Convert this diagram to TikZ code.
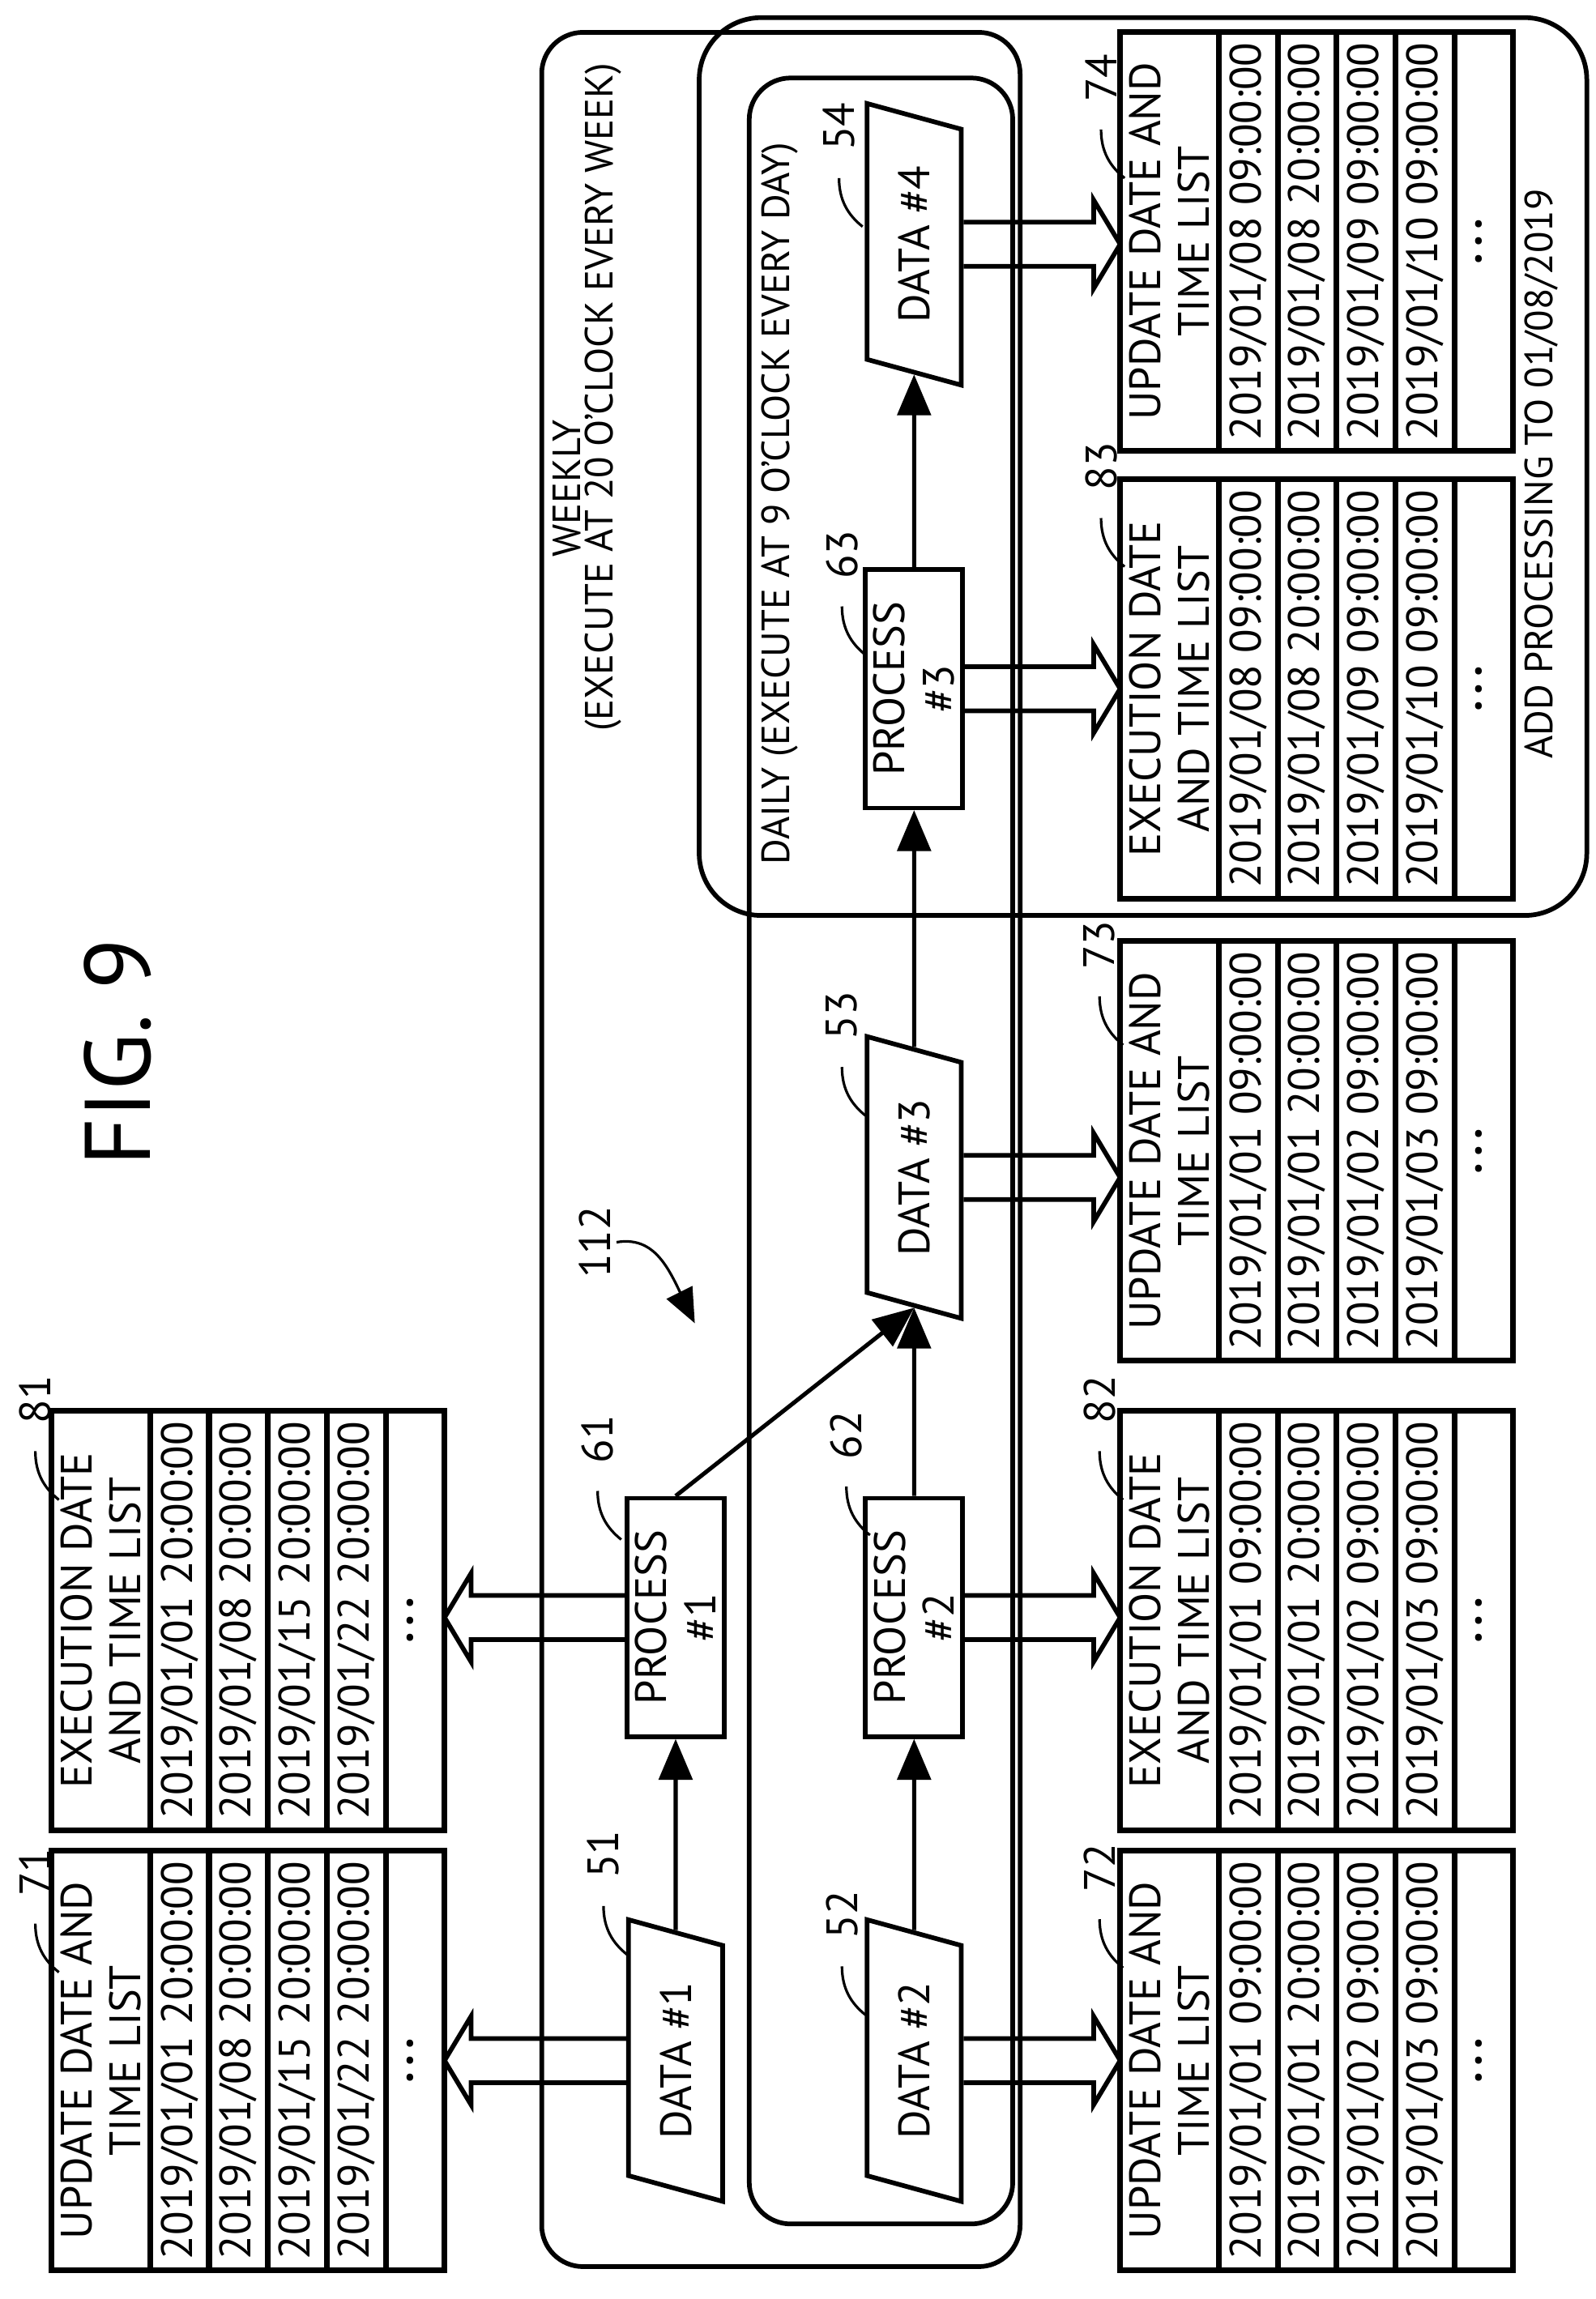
\documentclass[tikz,border=0pt]{standalone}
\usepackage{fontspec}
\setmainfont{PT Sans}
\usetikzlibrary{arrows}
\usetikzlibrary{shapes}
\usetikzlibrary{positioning}
\usetikzlibrary{calc}

\tikzset{
  frame/.style={line width=0.9pt},
  datanode/.style={draw, line width=0.9pt, trapezium, trapezium left angle=61, trapezium right angle=119,
     trapezium stretches=true, minimum width=1.92cm, minimum height=0.64cm, inner sep=0pt},
  procnode/.style={draw, line width=0.9pt, rectangle, minimum width=1.62cm, minimum height=0.66cm,
     inner sep=0pt, align=center, font=\fontsize{8.5}{9.5}\selectfont},
  thead/.style={draw, line width=1.1pt, minimum width=2.85cm, minimum height=0.67cm, inner sep=0pt,
     outer sep=0pt, align=center, font=\fontsize{8.5}{9.5}\selectfont},
  tcell/.style={draw, line width=1.1pt, minimum width=2.85cm, minimum height=0.40cm, inner sep=0pt,
     outer sep=0pt},
  num/.style={font=\fontsize{8.5}{9.5}\selectfont, inner sep=1pt},
  note/.style={font=\fontsize{7.6}{9}\selectfont},
  lead/.style={line width=0.5pt},
  flow/.style={->, >=triangle 45, line width=0.8pt},
  wide/.style={line width=0.9pt, line join=miter}
}

\newcommand{\datetable}[8]{%
  \node[thead, anchor=north] (#1) at (#2) {#3};
  \node[tcell, below=0pt of #1] (#1a) {#4};
  \node[tcell, below=0pt of #1a] (#1b) {#5};
  \node[tcell, below=0pt of #1b] (#1c) {#6};
  \node[tcell, below=0pt of #1c] (#1d) {#7};
  \node[tcell, below=0pt of #1d] (#1e) {#8};
}

\newcommand{\widearrow}[2]{%
  \coordinate (wa) at (#1);
  \coordinate (wb) at (#2);
  \coordinate (wh) at ($(wb)!0.18cm!(wa)$);
  \draw[wide] ($(wa)!0.15cm!90:(wb)$) -- ($(wh)!0.15cm!90:(wb)$) -- ($(wh)!0.3cm!90:(wb)$)
    -- (wb) -- ($(wh)!0.3cm!-90:(wb)$) -- ($(wh)!0.15cm!-90:(wb)$) -- ($(wa)!0.15cm!-90:(wb)$);
}

\newcommand{\reflabel}[3]{%
  \node[num] (#1) at (#2) {#3};
  \draw[lead] (#1) ++(-0.35,0) .. controls +(-0.15,0) and +(0.08,0.1) .. ++(-0.33,-0.16);
}

\newcommand{\moredots}{\textbf{·\hspace{1.2pt}·\hspace{1.2pt}·}}

\begin{document}
\begin{tikzpicture}
\useasboundingbox (0,0) rectangle (10.84,15.62);
\begin{scope}[shift={(10.84,0)}, rotate=90, transform shape, font=\fontsize{8.5}{9.5}\selectfont]

% frames
\draw[frame, rounded corners=8pt] (0.22,3.91) rectangle (15.40,7.16);
\draw[frame, rounded corners=8pt] (0.51,3.96) rectangle (15.09,5.75);
\draw[frame, rounded corners=12pt] (9.40,0.06) rectangle (15.50,6.09);

\node[font=\fontsize{18}{20}\selectfont] (fig) at (8.47,10.04) {FIG. 9};
\node[note] (wk) at (12.30,6.99) {WEEKLY};
\node[note] (wkx) at (12.92,6.74) {(EXECUTE AT 20 O'CLOCK EVERY WEEK)};
\node[note, anchor=west] (dy) at (9.62,5.54) {DAILY (EXECUTE AT 9 O'CLOCK EVERY DAY)};
\node[note] (add) at (12.40,0.37) {ADD PROCESSING TO 01/08/2019};

% data and processes
\node[datanode] (d1) at (1.62,6.25) {DATA \#1};
\node[datanode] (d2) at (1.62,4.63) {DATA \#2};
\node[datanode] (d3) at (7.62,4.63) {DATA \#3};
\node[datanode] (d4) at (13.96,4.63) {DATA \#4};
\node[procnode] (p1) at (4.63,6.25) {PROCESS\\\#1};
\node[procnode] (p2) at (4.63,4.63) {PROCESS\\\#2};
\node[procnode] (p3) at (10.94,4.63) {PROCESS\\\#3};

\draw[flow] (d1) -- (p1);
\draw[flow] (d2) -- (p2);
\draw[flow] (p2) -- (d3.west);
\draw[flow] (p1.east) -- (d3.west);
\draw[flow] (d3) -- (p3);
\draw[flow] (p3) -- (d4);

% tables
\datetable{t71}{1.62,10.49}{UPDATE DATE AND\\TIME LIST}{2019/01/01 20:00:00}{2019/01/08 20:00:00}{2019/01/15 20:00:00}{2019/01/22 20:00:00}{\moredots}
\datetable{t81}{4.61,10.49}{EXECUTION DATE\\AND TIME LIST}{2019/01/01 20:00:00}{2019/01/08 20:00:00}{2019/01/15 20:00:00}{2019/01/22 20:00:00}{\moredots}
\datetable{t72}{1.62,3.23}{UPDATE DATE AND\\TIME LIST}{2019/01/01 09:00:00}{2019/01/01 20:00:00}{2019/01/02 09:00:00}{2019/01/03 09:00:00}{\moredots}
\datetable{t82}{4.61,3.23}{EXECUTION DATE\\AND TIME LIST}{2019/01/01 09:00:00}{2019/01/01 20:00:00}{2019/01/02 09:00:00}{2019/01/03 09:00:00}{\moredots}
\datetable{t73}{7.80,3.23}{UPDATE DATE AND\\TIME LIST}{2019/01/01 09:00:00}{2019/01/01 20:00:00}{2019/01/02 09:00:00}{2019/01/03 09:00:00}{\moredots}
\datetable{t83}{10.94,3.23}{EXECUTION DATE\\AND TIME LIST}{2019/01/08 09:00:00}{2019/01/08 20:00:00}{2019/01/09 09:00:00}{2019/01/10 09:00:00}{\moredots}
\datetable{t74}{13.98,3.23}{UPDATE DATE AND\\TIME LIST}{2019/01/08 09:00:00}{2019/01/08 20:00:00}{2019/01/09 09:00:00}{2019/01/10 09:00:00}{\moredots}

% wide arrows to the lists
\widearrow{d1.north}{d1.north |- t71e.south}
\widearrow{p1.north}{p1.north |- t81e.south}
\widearrow{d2.south}{d2.south |- t72.north}
\widearrow{p2.south}{p2.south |- t82.north}
\widearrow{d3.south}{d3.south |- t73.north}
\widearrow{p3.south}{p3.south |- t83.north}
\widearrow{d4.south}{d4.south |- t74.north}

% reference numerals
\reflabel{l51}{3.02,6.74}{51}
\reflabel{l52}{2.61,5.12}{52}
\reflabel{l53}{8.72,5.12}{53}
\reflabel{l54}{14.76,5.14}{54}
\reflabel{l61}{5.84,6.78}{61}
\reflabel{l62}{5.87,5.09}{62}
\reflabel{l63}{11.85,5.12}{63}
\reflabel{l71}{2.90,10.60}{71}
\reflabel{l81}{6.11,10.60}{81}
\reflabel{l72}{2.93,3.37}{72}
\reflabel{l82}{6.11,3.37}{82}
\reflabel{l73}{9.20,3.37}{73}
\reflabel{l83}{12.45,3.36}{83}
\reflabel{l74}{15.09,3.36}{74}

\node[num] (l112) at (7.18,6.80) {112};
\coordinate (c112) at (6.63,6.12);
\draw[lead, ->, >=triangle 45] (l112.south) .. controls +(0.05,-0.3) and +(0.3,0.15) .. (c112);

\end{scope}
\end{tikzpicture}
\end{document}
